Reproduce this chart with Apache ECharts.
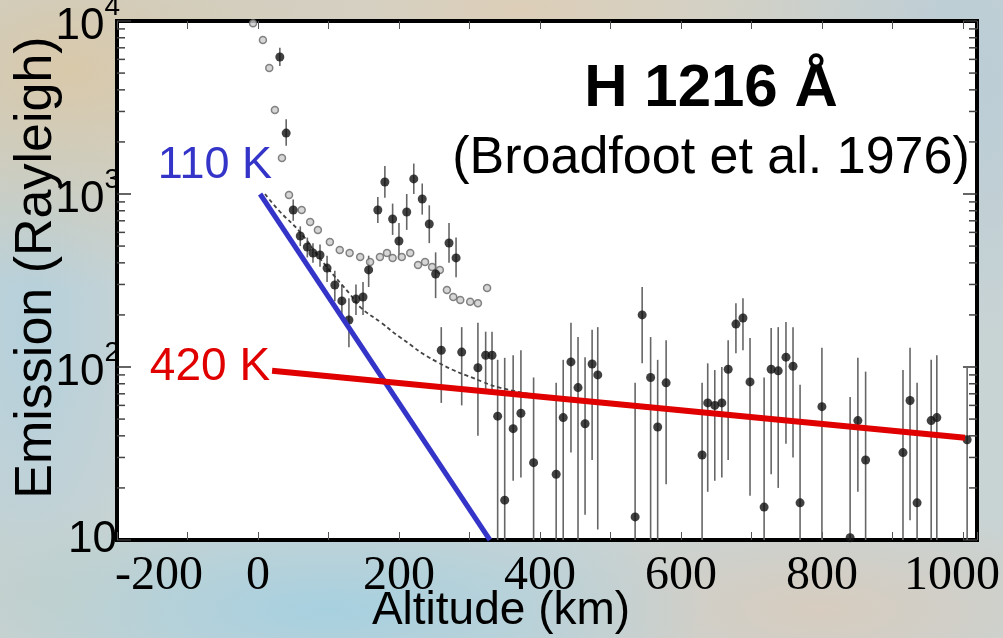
<!DOCTYPE html>
<html>
<head>
<meta charset="utf-8">
<script src="https://cdn.jsdelivr.net/npm/echarts@6/dist/echarts.min.js"></script>
<style>
  html, body { margin: 0; padding: 0; }
  body {
    width: 1003px; height: 638px; overflow: hidden;
    background:
      radial-gradient(ellipse 320px 220px at 70px 70px, rgba(218,200,168,0.95), rgba(218,200,168,0)),
      radial-gradient(ellipse 420px 160px at 520px 10px, rgba(222,206,182,0.95), rgba(222,206,182,0)),
      radial-gradient(ellipse 260px 260px at 960px 80px, rgba(186,204,214,0.95), rgba(186,204,214,0)),
      radial-gradient(ellipse 120px 300px at 30px 330px, rgba(180,208,220,0.95), rgba(180,208,220,0)),
      radial-gradient(ellipse 380px 110px at 330px 610px, rgba(165,208,224,0.95), rgba(165,208,224,0)),
      radial-gradient(ellipse 320px 110px at 820px 610px, rgba(216,204,190,0.95), rgba(216,204,190,0)),
      radial-gradient(ellipse 200px 100px at 40px 590px, rgba(200,208,200,0.95), rgba(200,208,200,0)),
      #c8d3d4;
  }
  #chart { width: 1003px; height: 638px; }
</style>
</head>
<body>
<div id="chart"></div>
<script>
// open circles (upper profile)
const altOpen = [-7, 7, 16, 24, 34, 44, 62, 74, 85, 102, 116, 130, 145, 159, 173, 183, 191, 204, 216, 227, 237, 247, 258, 268, 277, 287, 301, 312, 325];
const emisOpen = [9700, 7770, 5350, 3060, 1615, 987, 808, 689, 619, 528, 475, 456, 432, 404, 432, 456, 427, 432, 456, 389, 404, 378, 364, 279, 254, 244, 238, 234, 286];

// filled dots with error bars
const altDot = [31, 40, 50, 60, 70, 78, 88, 98, 109, 119, 129, 139, 149, 157, 170, 180, 191, 200, 211, 221, 233, 243, 252, 260, 271, 281, 289, 312, 323, 332,
  340, 350, 362, 373, 391, 423, 433, 444, 454, 464, 474, 482, 535, 545, 557, 567, 579, 630, 638, 648, 658, 667, 678, 688, 698,
  718, 728, 738, 749, 759, 769, 800, 840, 851, 862, 915, 925, 935, 955, 963, 1006];
const emisDot = [6190, 2250, 808, 572, 494, 456, 444, 373, 298, 241, 187, 247, 254, 364, 808, 1173, 717, 535, 787, 1222, 935, 671, 345, 125, 521, 427, 122, 99, 117, 117,
  52, 17, 44, 54, 28, 24, 51, 107, 76, 47, 104, 90, 13.6, 200, 87, 45, 81, 31, 62, 60, 62, 97, 177, 192, 82,
  15.5, 97, 95, 114, 101, 16.4, 59, 10.3, 49, 29, 32, 64, 16.4, 49, 51, 38];
const errLo = [5500, 1900, 700, 500, 430, 400, 380, 310, 240, 190, 130, 200, 200, 290, 680, 950, 580, 420, 620, 1000, 760, 520, 250, 62, 400, 330, 60, 40, 70, 70,
  10, 10, 22, 23, 10, 10, 10, 32, 10, 14, 29, 11.5, 10, 105, 10, 10, 21, 10, 19, 22, 23, 29, 120, 125, 18,
  10, 24, 20, 36, 30, 10, 10, 10, 19, 10, 10, 13, 10, 10, 10, 10];
const errHi = [7000, 2700, 930, 650, 560, 520, 510, 440, 360, 300, 250, 300, 310, 440, 960, 1450, 880, 680, 1000, 1500, 1150, 860, 460, 170, 680, 560, 170, 180, 160, 160,
  110, 113, 117, 125, 87, 81, 110, 180, 149, 114, 164, 170, 81, 290, 149, 110, 143, 81, 105, 96, 100, 143, 234, 250, 147,
  87, 168, 170, 182, 170, 79, 129, 67, 113, 94, 96, 129, 81, 110, 117, 100];

// dashed model curve
const altModel = [10, 30, 60, 95, 130, 145, 175, 201, 254, 319, 343, 400, 440];
const emisModel = [1000, 800, 600, 390, 265, 222, 180, 149, 107, 82, 76, 68, 64];

// temperature fits
const alt110 = [3, 329];
const emis110 = [1000, 10];
const alt420 = [20, 1003];
const emis420 = [95, 39];

// minor log ticks on the emission axis
const minorTicks = [20, 30, 40, 50, 60, 70, 80, 90, 200, 300, 400, 500, 600, 700, 800, 900, 2000, 3000, 4000, 5000, 6000, 7000, 8000, 9000];

const sans = '"Liberation Sans", Arial, sans-serif';
const serif = '"Liberation Serif", "Times New Roman", serif';

const chart = echarts.init(document.getElementById('chart'), null, { renderer: 'canvas' });

const option = {
  animation: false,
  backgroundColor: 'transparent',
  title: {
    text: 'H 1216 Å',
    subtext: '(Broadfoot et al. 1976)',
    left: 706,
    top: 54,
    textAlign: 'center',
    itemGap: 14,
    textStyle: { fontFamily: sans, fontSize: 60, fontWeight: 'bold', color: '#000' },
    subtextStyle: { fontFamily: sans, fontSize: 52, color: '#000' }
  },
  grid: {
    left: 117, right: 26, top: 21, bottom: 98,
    outerBoundsMode: 'none',
    containLabel: false,
    show: true, backgroundColor: '#fff', borderColor: '#000', borderWidth: 4
  },
  xAxis: [
    {
      type: 'value', min: -200, max: 1020, interval: 100,
      name: 'Altitude (km)', nameLocation: 'middle', nameGap: 48, nameMoveOverlap: false,
      nameTextStyle: { fontFamily: sans, fontSize: 46, color: '#000', padding: [0, 92, 0, 0] },
      axisLine: { show: false, onZero: false },
      splitLine: { show: false },
      axisTick: { inside: true, length: 8, lineStyle: { color: '#555' } },
      axisLabel: {
        margin: 12, color: '#000', fontFamily: serif, fontSize: 48,
        formatter: v => {
          if (v % 200 !== 0) return '';
          if (v === -200) return '{l|-200}';
          if (v === 1000) return '{r|1000}';
          return String(v);
        },
        rich: {
          l: { fontFamily: serif, fontSize: 48, color: '#000', padding: [0, 0, 0, 84] },
          r: { fontFamily: serif, fontSize: 48, color: '#000', padding: [0, 22, 0, 0] }
        }
      }
    },
    {
      type: 'value', position: 'top', min: -200, max: 1020, interval: 100,
      axisLine: { show: false, onZero: false }, splitLine: { show: false }, axisLabel: { show: false },
      axisTick: { inside: true, length: 8, lineStyle: { color: '#555' } }
    }
  ],
  yAxis: [
    {
      type: 'log', logBase: 10, min: 10, max: 10000,
      name: 'Emission (Rayleigh)', nameLocation: 'middle', nameGap: 54, nameMoveOverlap: false,
      nameTextStyle: { fontFamily: sans, fontSize: 52, color: '#000', padding: [0, 0, 0, 26] },
      axisLine: { show: false, onZero: false }, splitLine: { show: false },
      axisTick: { inside: true, length: 14, lineStyle: { color: '#333', width: 1.5 } },
      axisLabel: {
        margin: -3, color: '#000',
        formatter: v => v === 10 ? '{c|10}' : '{b|10}{s|' + Math.round(Math.log10(v)) + '}',
        rich: {
          b: { fontFamily: sans, fontSize: 44, color: '#000', padding: [12, 0, 0, 0] },
          c: { fontFamily: sans, fontSize: 44, color: '#000', padding: [0, 3, 0, 0] },
          s: { fontFamily: sans, fontSize: 28, color: '#000', verticalAlign: 'top' }
        }
      }
    },
    {
      type: 'log', logBase: 10, min: 10, max: 10000, position: 'right',
      axisLine: { show: false, onZero: false }, splitLine: { show: false }, axisLabel: { show: false },
      axisTick: { inside: true, length: 14, lineStyle: { color: '#333', width: 1.5 } }
    }
  ],
  series: [
    {
      name: 'minor ticks',
      type: 'custom',
      silent: true,
      data: minorTicks.map(v => [0, v]),
      encode: { x: 0, y: 1 },
      renderItem: (params, api) => {
        const cs = params.coordSys;
        const y = api.coord([0, api.value(1)])[1];
        return {
          type: 'group',
          children: [
            { type: 'line', shape: { x1: cs.x, y1: y, x2: cs.x + 8, y2: y }, style: { stroke: '#444', lineWidth: 1.5 } },
            { type: 'line', shape: { x1: cs.x + cs.width, y1: y, x2: cs.x + cs.width - 8, y2: y }, style: { stroke: '#444', lineWidth: 1.5 } }
          ]
        };
      }
    },
    {
      name: 'error bars',
      type: 'custom',
      silent: true,
      clip: true,
      data: altDot.map((a, i) => [a, errLo[i], errHi[i]]),
      encode: { x: 0, y: [1, 2] },
      renderItem: (params, api) => {
        const lo = api.coord([api.value(0), api.value(1)]);
        const hi = api.coord([api.value(0), api.value(2)]);
        return {
          type: 'line',
          shape: { x1: lo[0], y1: lo[1], x2: hi[0], y2: hi[1] },
          style: { stroke: '#666', lineWidth: 1.6 }
        };
      },
      z: 2
    },
    {
      name: 'model',
      type: 'line',
      smooth: true,
      symbol: 'none',
      data: altModel.map((a, i) => [a, emisModel[i]]),
      lineStyle: { color: '#444', width: 1.8, type: [4, 3] },
      z: 3
    },
    {
      name: 'open',
      type: 'scatter',
      symbol: 'circle',
      symbolSize: 7,
      data: altOpen.map((a, i) => [a, emisOpen[i]]),
      itemStyle: { color: '#ccc', borderColor: '#666', borderWidth: 1.5 },
      z: 4
    },
    {
      name: 'dots',
      type: 'scatter',
      symbol: 'circle',
      symbolSize: 9,
      data: altDot.map((a, i) => [a, emisDot[i]]),
      itemStyle: { color: '#111' },
      z: 5
    },
    {
      name: '110 K',
      type: 'line',
      symbol: 'circle',
      symbolSize: 0,
      showSymbol: true,
      data: alt110.map((a, i) => i === 0 ? {
        value: [a, emis110[i]],
        label: {
          show: true, formatter: '110 K', position: 'left', distance: 0, offset: [12, -28],
          fontFamily: sans, fontSize: 45, color: '#3434c8'
        }
      } : [a, emis110[i]]),
      lineStyle: { color: '#3434c8', width: 5 },
      z: 6
    },
    {
      name: '420 K',
      type: 'line',
      symbol: 'circle',
      symbolSize: 0,
      showSymbol: true,
      data: alt420.map((a, i) => i === 0 ? {
        value: [a, emis420[i]],
        label: {
          show: true, formatter: '420 K', position: 'left', distance: 2, offset: [0, -4],
          fontFamily: sans, fontSize: 46, color: '#e00000'
        }
      } : [a, emis420[i]]),
      lineStyle: { color: '#e00000', width: 6 },
      z: 6
    }
  ]
};

chart.setOption(option);
</script>
</body>
</html>
